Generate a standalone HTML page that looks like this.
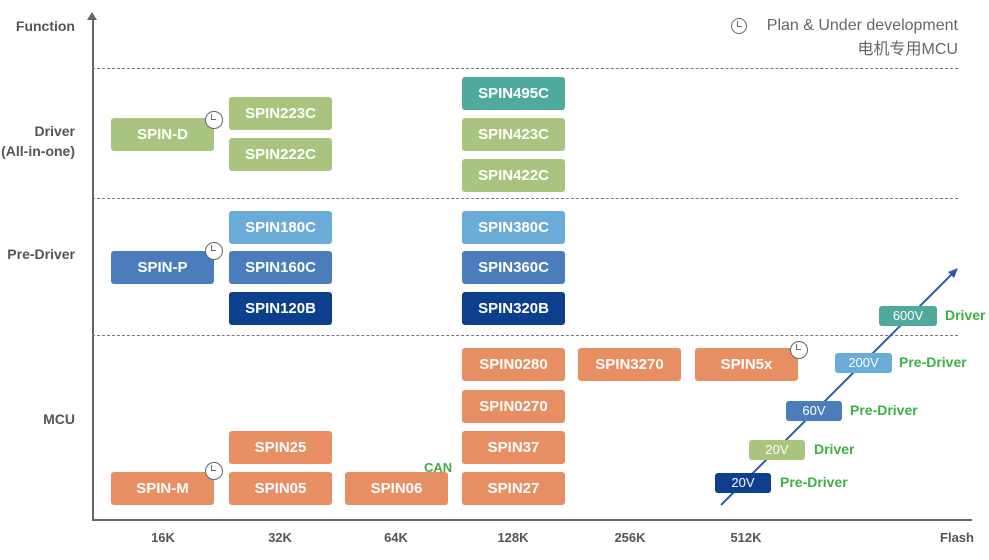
<!DOCTYPE html>
<html><head><meta charset="utf-8"><style>
body{margin:0;width:989px;height:560px;background:#fff;position:relative;overflow:hidden;font-family:"Liberation Sans","Noto Sans CJK SC",sans-serif}
.b{position:absolute;width:103px;height:33px;border-radius:3px;color:#fff;font-weight:bold;font-size:15px;line-height:33px;text-align:center}
.g{background:#a8c47f}.t{background:#4fa99d}.lb{background:#6aabd7}.mb{background:#4b7dbd}.db{background:#0e3f8f}.o{background:#e88e63}
.l{position:absolute;color:#555;font-size:14px;font-weight:bold}
.v{position:absolute;height:20px;border-radius:3px;color:#fff;font-size:13px;line-height:20px;text-align:center}
.vt{position:absolute;color:#3bb044;font-weight:bold;font-size:14px}
.c{position:absolute;width:16px;height:16px;border-radius:50%;background:#fff;border:1.5px solid #666;box-sizing:border-box}
.c:after{content:"";position:absolute;left:5px;top:2px;width:4px;height:5px;border-left:1.5px solid #666;border-bottom:1.5px solid #666}
.d{position:absolute;left:92px;width:866px;border-top:1px dashed #777}
.x{position:absolute;top:530px;font-size:13px;color:#555;font-weight:bold;width:60px;text-align:center}
</style></head><body>
<div style="position:absolute;left:92px;top:16px;width:1.5px;height:505px;background:#666"></div>
<div style="position:absolute;left:87px;top:12px;border:5px solid transparent;border-bottom:8px solid #666;border-top:0"></div>
<div style="position:absolute;left:92px;top:519px;width:880px;height:1.5px;background:#666"></div>
<div class="d" style="top:68px"></div><div class="d" style="top:198px"></div><div class="d" style="top:335px"></div>
<div class="l" style="right:914px;top:18px">Function</div>
<div class="l" style="right:914px;top:121px;text-align:right;line-height:20px">Driver<br>(All-in-one)</div>
<div class="l" style="right:914px;top:246px">Pre-Driver</div>
<div class="l" style="right:914px;top:411px">MCU</div>
<div class="c" style="left:731px;top:18px"></div>
<div style="position:absolute;right:31px;top:14px;font-size:16px;color:#666;text-align:right;line-height:24px">Plan &amp; Under development<br>电机专用MCU</div>
<div class="b g" style="left:111px;top:118px">SPIN-D</div>
<div class="b g" style="left:229px;top:97px">SPIN223C</div>
<div class="b g" style="left:229px;top:138px">SPIN222C</div>
<div class="b t" style="left:462px;top:77px">SPIN495C</div>
<div class="b g" style="left:462px;top:118px">SPIN423C</div>
<div class="b g" style="left:462px;top:159px">SPIN422C</div>
<div class="b lb" style="left:229px;top:211px">SPIN180C</div>
<div class="b mb" style="left:229px;top:251px">SPIN160C</div>
<div class="b db" style="left:229px;top:292px">SPIN120B</div>
<div class="b mb" style="left:111px;top:251px">SPIN-P</div>
<div class="b lb" style="left:462px;top:211px">SPIN380C</div>
<div class="b mb" style="left:462px;top:251px">SPIN360C</div>
<div class="b db" style="left:462px;top:292px">SPIN320B</div>
<div class="b o" style="left:462px;top:348px">SPIN0280</div>
<div class="b o" style="left:462px;top:390px">SPIN0270</div>
<div class="b o" style="left:462px;top:431px">SPIN37</div>
<div class="b o" style="left:462px;top:472px">SPIN27</div>
<div class="b o" style="left:578px;top:348px">SPIN3270</div>
<div class="b o" style="left:695px;top:348px">SPIN5x</div>
<div class="b o" style="left:229px;top:431px">SPIN25</div>
<div class="b o" style="left:229px;top:472px">SPIN05</div>
<div class="b o" style="left:345px;top:472px">SPIN06</div>
<div class="b o" style="left:111px;top:472px">SPIN-M</div>
<div style="position:absolute;left:424px;top:460px;color:#3bb044;font-size:13px;font-weight:bold">CAN</div>
<div class="c" style="left:205px;top:111px;width:18px;height:18px"></div>
<div class="c" style="left:205px;top:242px;width:18px;height:18px"></div>
<div class="c" style="left:205px;top:462px;width:18px;height:18px"></div>
<div class="c" style="left:790px;top:341px;width:18px;height:18px"></div>
<svg style="position:absolute;left:0;top:0" width="989" height="560"><line x1="721" y1="505" x2="954" y2="272" stroke="#2d5aa8" stroke-width="2"/><polygon points="958,268 948,272 954,278" fill="#2d5aa8"/></svg>
<div class="v t" style="left:879px;top:306px;width:58px">600V</div><div class="vt" style="left:945px;top:307px">Driver</div>
<div class="v lb" style="left:835px;top:353px;width:57px">200V</div><div class="vt" style="left:899px;top:354px">Pre-Driver</div>
<div class="v mb" style="left:786px;top:401px;width:56px">60V</div><div class="vt" style="left:850px;top:402px">Pre-Driver</div>
<div class="v g" style="left:749px;top:440px;width:56px">20V</div><div class="vt" style="left:814px;top:441px">Driver</div>
<div class="v db" style="left:715px;top:473px;width:56px">20V</div><div class="vt" style="left:780px;top:474px">Pre-Driver</div>
<div class="x" style="left:133px">16K</div><div class="x" style="left:250px">32K</div><div class="x" style="left:366px">64K</div>
<div class="x" style="left:483px">128K</div><div class="x" style="left:600px">256K</div><div class="x" style="left:716px">512K</div>
<div class="x" style="left:927px">Flash</div>
</body></html>
